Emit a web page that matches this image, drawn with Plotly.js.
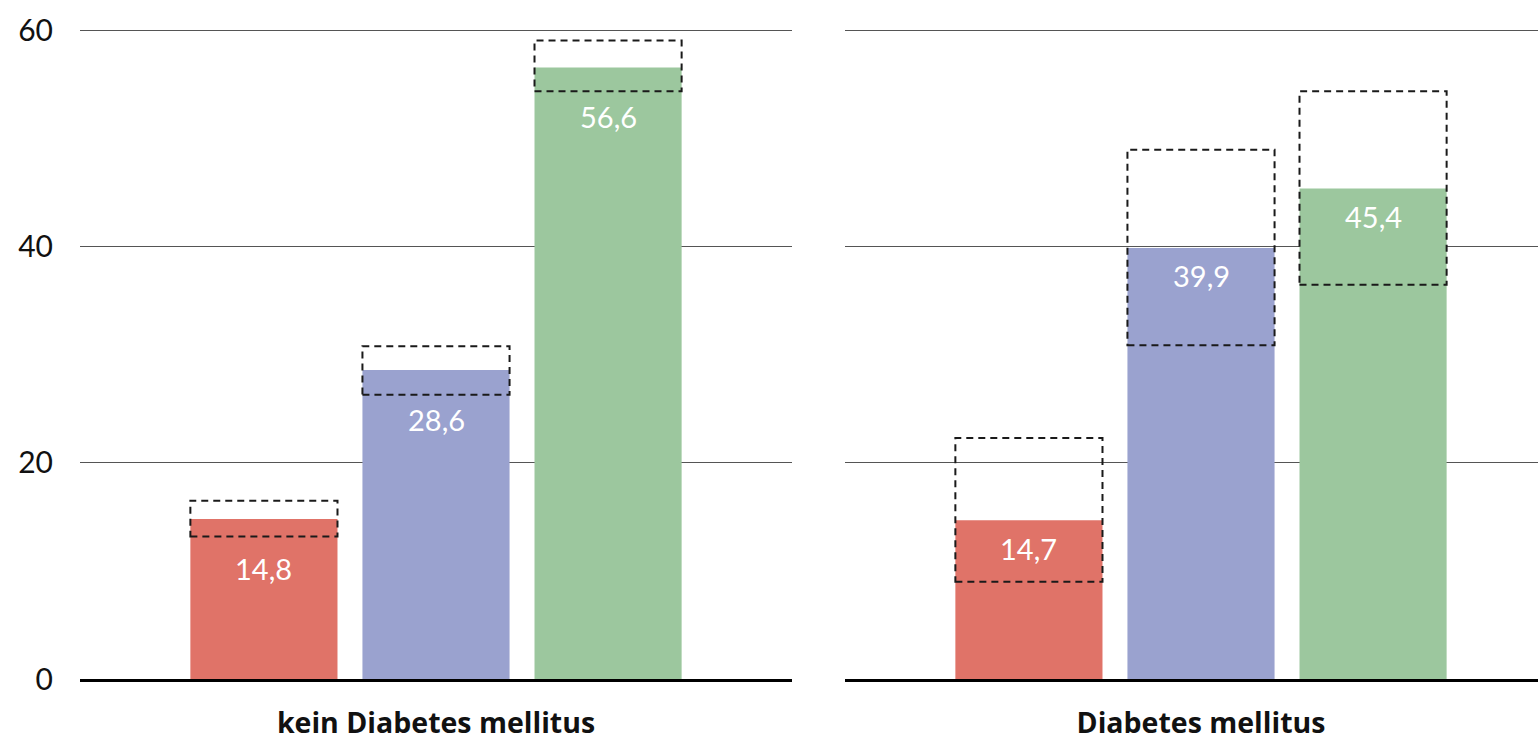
<!DOCTYPE html>
<html><head><meta charset="utf-8">
<script src="https://cdn.plot.ly/plotly-3.0.1.min.js"></script>
<style>html,body{margin:0;padding:0;background:#fff}#chart{width:1538px;height:742px}</style>
</head><body><div id="chart"></div>
<script>
// ---- data ----
const panels = ["kein Diabetes mellitus", "Diabetes mellitus"];
const seriesNames = ["Gruppe 1", "Gruppe 2", "Gruppe 3"];
// values per series, one entry per panel
const seriesRed = [14.8, 14.7];
const seriesBlue = [28.6, 39.9];
const seriesGreen = [56.6, 45.4];
// confidence intervals per series, one entry per panel
const ciLowRed = [13.2, 9.0];
const ciHighRed = [16.5, 22.3];
const ciLowBlue = [26.3, 30.9];
const ciHighBlue = [30.8, 49.0];
const ciLowGreen = [54.4, 36.5];
const ciHighGreen = [59.1, 54.4];
const yTicks = [0, 20, 40, 60];

// ---- styles ----
const colors = ["#E07368", "#9AA2CF", "#9CC79E"];
const FONT = "Lato, 'Open Sans', sans-serif";
const FONT_BOLD = "'Open Sans', Lato, sans-serif";
const BARGAP = 0.275, BARGROUPGAP = 0.145;
const labelShift = [-49, -28];

const values = [seriesRed, seriesBlue, seriesGreen];
const ciLow = [ciLowRed, ciLowBlue, ciLowGreen];
const ciHigh = [ciHighRed, ciHighBlue, ciHighGreen];
const nS = values.length;
const slot = (1 - BARGAP) / nS;
const barW = slot * (1 - BARGROUPGAP);
const fmt = v => v.toFixed(1).replace('.', ',');

const traces = [], shapes = [], annotations = [];
panels.forEach((panel, p) => {
  const xa = p === 0 ? 'x' : 'x2', ya = p === 0 ? 'y' : 'y2';
  for (let s = 0; s < nS; s++) {
    traces.push({
      type: 'bar', x: [panel], y: [values[s][p]], name: seriesNames[s],
      xaxis: xa, yaxis: ya, marker: {color: colors[s], line: {width: 0}},
      showlegend: false, hoverinfo: 'y'
    });
    const off = (s - (nS - 1) / 2) * slot;
    shapes.push({
      type: 'rect', xref: xa, yref: ya, layer: 'above',
      x0: off - barW / 2, x1: off + barW / 2,
      y0: ciLow[s][p], y1: ciHigh[s][p],
      line: {color: '#1a1a1a', width: 2, dash: '7px,5px'},
      fillcolor: 'rgba(0,0,0,0)'
    });
    annotations.push({
      xref: xa, yref: ya, x: off, y: values[s][p], text: fmt(values[s][p]),
      showarrow: false, yanchor: 'middle', xanchor: 'center', yshift: labelShift[p],
      font: {family: FONT, size: 29, color: '#ffffff'}
    });
  }
});

const xBase = {
  type: 'category', showline: true, linewidth: 3, linecolor: '#000',
  ticks: '', showgrid: false, zeroline: false, fixedrange: true,
  tickfont: {family: FONT_BOLD, size: 28.5, color: '#111', weight: 700},
  ticklabelstandoff: 17
};
const yBase = {
  range: [0, 61], tickvals: yTicks, ticktext: yTicks.map(String),
  showgrid: true, gridcolor: '#555', gridwidth: 1, zeroline: false,
  showline: false, ticks: '', fixedrange: true,
  tickfont: {family: FONT, size: 30, color: '#111'}
};

const layout = {
  width: 1538, height: 742,
  margin: {l: 80, r: 0, t: 20, b: 63},
  paper_bgcolor: '#fff', plot_bgcolor: '#fff',
  barmode: 'group', bargap: BARGAP, bargroupgap: BARGROUPGAP,
  xaxis: Object.assign({}, xBase, {domain: [0, 712 / 1458], range: [-0.5, 0.5], anchor: 'y'}),
  xaxis2: Object.assign({}, xBase, {domain: [765 / 1458, 1], range: [-0.5, -0.5 + 693 / 712], anchor: 'y2'}),
  yaxis: Object.assign({}, yBase, {anchor: 'x', ticklabelstandoff: 26}),
  yaxis2: Object.assign({}, yBase, {anchor: 'x2', matches: 'y', showticklabels: false}),
  shapes: shapes, annotations: annotations,
  showlegend: false
};

Plotly.newPlot('chart', traces, layout, {displayModeBar: false, staticPlot: true});
</script></body></html>
